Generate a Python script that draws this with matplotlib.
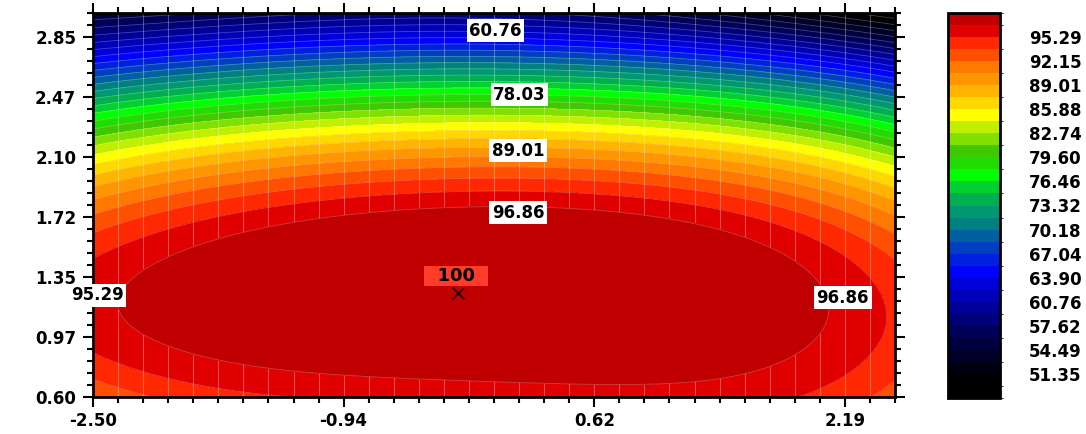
import numpy as np
import matplotlib
matplotlib.use('Agg')
import matplotlib.pyplot as plt
from matplotlib.colors import ListedColormap, BoundaryNorm
from matplotlib.cm import ScalarMappable
from matplotlib.ticker import FixedLocator, MultipleLocator

# response range, 33 equal bands between min and max
z_min, z_max = 48.2083, 100.0
n_bands = 33

band_colors = ['#000000', '#000000', '#000014', '#000028', '#000040', '#000058',
               '#000078', '#000098', '#0000b8', '#0000d8', '#0000ff', '#0020e0',
               '#0040c0', '#0060a0', '#008080', '#009870', '#00b050', '#00d030',
               '#00ff00', '#20dc00', '#40c800', '#80e000', '#c0f000', '#ffff00',
               '#ffd800', '#ffb400', '#ff9600', '#ff7800', '#ff5000', '#ff2800',
               '#e00000', '#c00000', '#c00000']

cbar_labels = ['51.35', '54.49', '57.62', '60.76', '63.90', '67.04', '70.18',
               '73.32', '76.46', '79.60', '82.74', '85.88', '89.01', '92.15', '95.29']

# points: (x, y) -> response
# inner part of the plot
pts_x = [-0.22, -0.25, 0.30, -0.25, 0.15, 0.15, 0.16, 0.01, -0.25, -0.25, -0.25,
         -1.33, -1.33, 1.17, 1.17, -1.91, 1.73, -1.21, 1.56, 1.92,
         -1.33, -1.33, -1.33, -1.33, 1.17, 1.17, 1.17, 1.17,
         -2.29, -2.29, 2.21, 2.175, 2.36, 2.3, 2.3, 1.92, 1.98, -1.96]
pts_y = [1.25, 0.71, 0.69, 1.80, 1.76, 2.14, 2.49, 2.89, 2.32, 3.0, 0.6,
         0.75, 1.70, 0.69, 1.72, 1.52, 1.52, 0.61, 0.60, 1.52,
         2.22, 2.48, 2.79, 3.0, 2.22, 2.49, 2.77, 3.0,
         0.60, 1.22, 1.07, 1.22, 0.60, 1.39, 0.94, 0.86, 1.27, 0.96]
pts_z = [100.0, 96.86, 96.86, 96.86, 96.86, 89.01, 78.03, 60.76, 85.1, 59.0, 96.2,
         96.86, 96.86, 96.86, 96.86, 96.86, 96.86, 95.29, 95.29, 95.29,
         85.1, 77.2, 64.7, 57.0, 85.1, 77.2, 64.7, 55.0,
         93.72, 96.86, 96.86, 96.86, 93.72, 95.29, 95.29, 96.86, 96.86, 96.86]

# left and right borders of the plot
edge_y = [3.0, 2.85, 2.66, 2.47, 2.37, 2.2, 2.05, 1.9, 1.79, 1.72, 1.55, 1.23, 0.88, 0.71, 0.6]
left_z = [55.0, 60.5, 64.7, 72.9, 77.2, 81.5, 85.1, 89.1, 92.15, 93.72, 95.29, 95.6, 95.29, 93.72, 92.3]
right_z = [48.21, 53.5, 64.1, 70.8, 74.5, 79.5, 83.6, 87.5, 89.5, 90.5, 92.2, 95.1, 94.4, 93.4, 92.9]

opt_x, opt_y = -0.225, 1.25
opt_text = '100'

# contour labels: position and text
label_x = [0.01, 0.16, 0.15, 0.15, -2.475, 2.175]
label_y = [2.89, 2.49, 2.14, 1.75, 1.235, 1.22]
label_txt = ['60.76', '78.03', '89.01', '96.86', '95.29', '96.86']

x_ticks = [-2.5, -0.9375, 0.625, 2.1875]
x_tick_labels = ['-2.50', '-0.94', '0.62', '2.19']
y_ticks = [0.6, 0.975, 1.35, 1.725, 2.1, 2.475, 2.85]
y_tick_labels = ['0.60', '0.97', '1.35', '1.72', '2.10', '2.47', '2.85']


def basis(x, y):
    u = np.asarray(x, dtype=float) / 2.5
    v = (np.asarray(y, dtype=float) - 1.8) / 1.2
    cols = [v ** i for i in range(6)]
    cols += [u * v ** i for i in range(4)]
    cols += [u ** 2 * v ** i for i in range(5)]
    cols += [u ** 3 * v ** i for i in range(3)]
    cols += [u ** 4 * v ** i for i in range(4)]
    return np.stack(cols, axis=-1)


# fit a response surface through the read points
fx = np.concatenate([pts_x, np.full(len(edge_y), -2.5), np.full(len(edge_y), 2.5)])
fy = np.concatenate([pts_y, edge_y, edge_y])
fz = np.concatenate([pts_z, left_z, right_z])
w = np.where(np.isclose(fz, 96.86), 2.0, 1.0)
w[0] = 4.0
A = basis(fx, fy) * w[:, None]
coef, *_ = np.linalg.lstsq(A, fz * w, rcond=None)

xs = np.linspace(-2.5, 2.5, 400)
ys = np.linspace(0.6, 3.0, 300)
X, Y = np.meshgrid(xs, ys)
Z = basis(X, Y) @ coef
levels = np.linspace(z_min, z_max, n_bands + 1)
Z = np.clip(Z, z_min + 1e-6, z_max - 1e-6)

plt.rcParams['font.family'] = 'DejaVu Sans'
plt.rcParams['font.weight'] = 'bold'

fig = plt.figure(figsize=(10.86, 4.34), dpi=100)
ax = fig.add_axes([93 / 1086, 1 - 397 / 434, 802 / 1086, 384 / 434])

ax.contourf(X, Y, Z, levels=levels, colors=band_colors, zorder=1)
ax.xaxis.grid(True, which='both', color='white', alpha=0.3, lw=0.8)
ax.contourf(X, Y, Z, levels=levels[31:], colors=band_colors[31:], zorder=2)
ax.contour(X, Y, Z, levels=levels[1:32], colors='white', alpha=0.25,
           linewidths=0.6, zorder=2.2)

for lx, ly, t in zip(label_x, label_y, label_txt):
    ax.text(lx, ly, t, ha='center', va='center', fontsize=12,
            fontweight='bold', color='black', zorder=5, clip_on=False,
            bbox=dict(boxstyle='square,pad=0.15', fc='white', ec='none'))

ax.plot(opt_x, opt_y, marker='x', color='black', ms=9, mew=1, zorder=6)
ax.text(opt_x - 0.01, opt_y + 0.105, f'  {opt_text}  ', ha='center', va='center',
        fontsize=13, fontweight='bold', color='black', zorder=5,
        bbox=dict(boxstyle='square,pad=0.05', fc='#ff3c28', ec='none'))

ax.set_xlim(-2.5, 2.5)
ax.set_ylim(0.6, 3.0)
ax.xaxis.set_major_locator(FixedLocator(x_ticks))
ax.set_xticklabels(x_tick_labels)
ax.yaxis.set_major_locator(FixedLocator(y_ticks))
ax.set_yticklabels(y_tick_labels)
ax.xaxis.set_minor_locator(MultipleLocator(0.15625))
ax.yaxis.set_minor_locator(MultipleLocator(0.075))
ax.tick_params(which='both', direction='out', top=True, right=True,
               width=1.5, labelsize=12)
ax.tick_params(which='major', length=7)
ax.tick_params(which='minor', length=4)
ax.tick_params(axis='x', pad=4)
ax.tick_params(axis='y', pad=5)
for s in ax.spines.values():
    s.set_linewidth(2)

# colorbar shows the bands up to the last full step
cax = fig.add_axes([948 / 1086, 1 - 398 / 434, 52 / 1086, 385 / 434])
cb_levels = levels[:-1]
cmap = ListedColormap(band_colors[:len(cb_levels) - 1])
norm = BoundaryNorm(cb_levels, cmap.N)
cb = fig.colorbar(ScalarMappable(norm=norm, cmap=cmap), cax=cax,
                  boundaries=cb_levels, spacing='uniform')
cb.set_ticks(cb_levels[2:31:2])
cb.set_ticklabels(cbar_labels)
cb.ax.tick_params(length=0, pad=21, labelsize=12)
cb.outline.set_linewidth(2)

fig.savefig('out.png', dpi=100)
